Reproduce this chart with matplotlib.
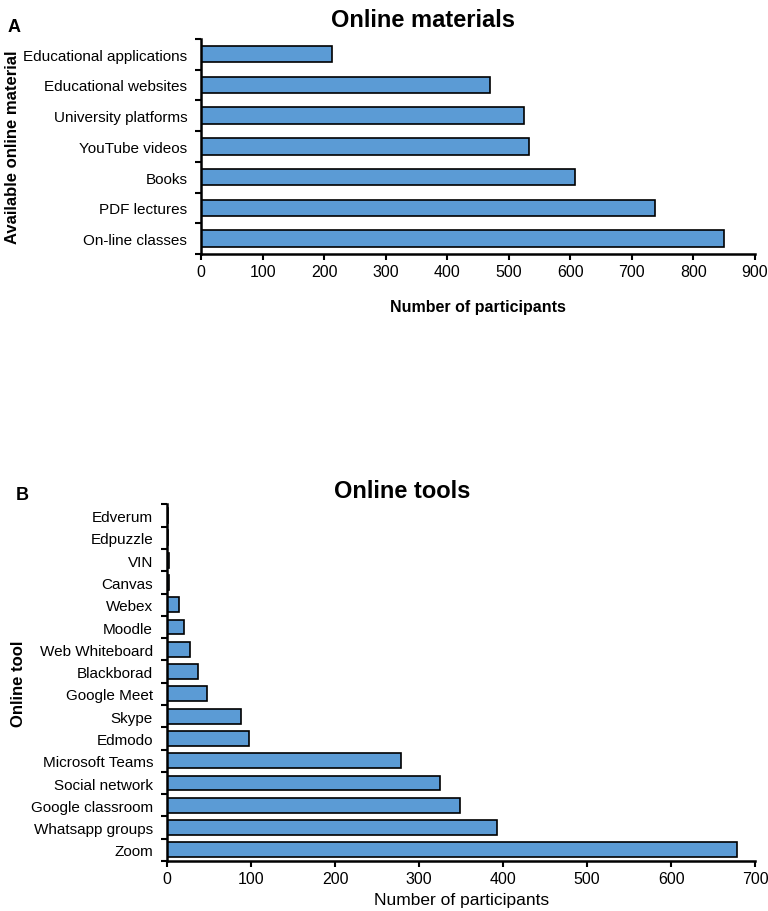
import numpy as np
import matplotlib
matplotlib.use('Agg')
import matplotlib.pyplot as plt

plt.rcParams['font.family'] = ['Liberation Sans', 'DejaVu Sans']

materials = ['Educational applications', 'Educational websites', 'University platforms',
             'YouTube videos', 'Books', 'PDF lectures', 'On-line classes']
materials_n = [213, 469, 524, 533, 607, 737, 849]

tools = ['Edverum', 'Edpuzzle', 'VIN', 'Canvas', 'Webex', 'Moodle', 'Web Whiteboard',
         'Blackborad', 'Google Meet', 'Skype', 'Edmodo', 'Microsoft Teams',
         'Social network', 'Google classroom', 'Whatsapp groups', 'Zoom']
tools_n = [1, 1, 3, 3, 14, 20, 27, 37, 48, 88, 98, 278, 325, 349, 393, 678]

bar_col = '#5B9BD5'

fig = plt.figure(figsize=(7.68, 9.12), dpi=100)


def panel(ax, cats, vals, xmax, hgt, title, tpad, ylab, letter, lx, ly, labx):
    y = np.arange(len(cats))[::-1]
    ax.barh(y, vals, height=hgt, color=bar_col, edgecolor='black', linewidth=1.2)
    ax.set_ylim(-0.5, len(cats) - 0.5)
    ax.set_xlim(0, xmax)
    ax.set_yticks(y)
    ax.set_yticklabels(cats, fontsize=11)
    ax.set_yticks(np.arange(-0.5, len(cats)), minor=True)
    ax.tick_params(axis='y', which='major', length=0, pad=10)
    ax.tick_params(axis='y', which='minor', length=4, width=1.5, direction='out')
    ax.set_xticks(np.arange(0, xmax + 1, 100))
    ax.tick_params(axis='x', length=4, width=1.5, labelsize=11.5)
    for s in ['top', 'right']:
        ax.spines[s].set_visible(False)
    for s in ['left', 'bottom']:
        ax.spines[s].set_linewidth(1.8)
    ax.set_title(title, fontsize=17, fontweight='bold', x=0.40, pad=tpad)
    ax.set_ylabel(ylab, fontsize=12, fontweight='bold')
    ax.yaxis.set_label_coords(labx, 0.5)
    fig.text(lx, ly, letter, fontsize=13, fontweight='bold')


ax1 = fig.add_axes([0.262, 0.7204, 0.721, 0.236])
panel(ax1, materials, materials_n, 900, 0.54, 'Online materials', 9,
      'Available online material', 'A', 0.010, 0.965, -0.328)
ax1.set_xlabel('Number of participants', fontsize=11.5, fontweight='bold', labelpad=14)

ax2 = fig.add_axes([0.2174, 0.0548, 0.766, 0.391])
panel(ax2, tools, tools_n, 700, 0.67, 'Online tools', 5,
      'Online tool', 'B', 0.020, 0.452, -0.24)
ax2.set_xlabel('Number of participants', fontsize=12.5, labelpad=4)

fig.savefig('out.png', dpi=100)
